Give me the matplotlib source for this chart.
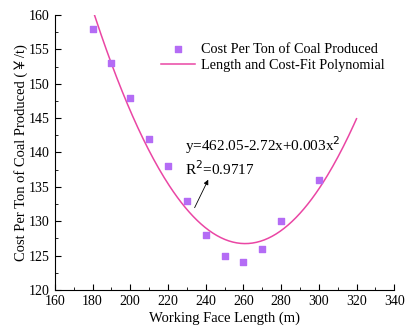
import numpy as np
import matplotlib
matplotlib.use("Agg")
import matplotlib.pyplot as plt
from matplotlib.ticker import MultipleLocator

length = [180, 190, 200, 210, 220, 230, 240, 250, 260, 270, 280, 300]
cost = [158, 153, 148, 142, 138, 133, 128, 125, 124, 126, 130, 136]
x_ticks = [160, 180, 200, 220, 240, 260, 280, 300, 320, 340]
y_ticks = [120, 125, 130, 135, 140, 145, 150, 155, 160]

plt.rcParams['font.family'] = ['Liberation Serif', 'DejaVu Serif']

fig = plt.figure(figsize=(4.06, 3.29), dpi=100)
ax = fig.add_axes([0.135, 0.119, 0.836, 0.835])

coef = np.polyfit(length, cost, 2)
xf = np.linspace(181, 320, 200)
yf = np.polyval(coef, xf)

ax.scatter(length, cost, marker='s', s=24, color='#b46cf5', zorder=3,
           label='Cost Per Ton of Coal Produced')
ax.plot(xf, yf, color='#ea46a4', lw=1.1, label='Length and Cost-Fit Polynomial')

ax.set_xlim(160, 340)
ax.set_ylim(120, 160)
ax.set_xticks(x_ticks)
ax.set_yticks(y_ticks)
ax.xaxis.set_minor_locator(MultipleLocator(10))
ax.yaxis.set_minor_locator(MultipleLocator(2.5))
ax.tick_params(which='both', direction='in', labelsize=10)
ax.tick_params(which='major', length=4)
ax.tick_params(which='minor', length=2)
for s in ['top', 'right']:
    ax.spines[s].set_visible(False)

ax.set_xlabel('Working Face Length (m)', fontsize=10.5, labelpad=3)
ax.set_ylabel('Cost Per Ton of Coal Produced (￥/t)', fontsize=10.5, labelpad=1,
              family=['Liberation Serif', 'Noto Sans CJK SC'])

ax.legend(loc='upper right', bbox_to_anchor=(1.01, 0.945), frameon=False,
          fontsize=10.3, handlelength=2.4, handletextpad=0.4, labelspacing=0.2)

ax.text(229.0, 141.0, 'y=462.05-2.72x+0.003x$^2$', fontsize=11, va='center')
ax.text(229.0, 137.6, 'R$^2$=0.9717', fontsize=11, va='center')
ax.annotate('', xy=(242, 136.4), xytext=(233.5, 131.6),
            arrowprops=dict(arrowstyle='-|>', color='black', lw=0.6,
                            mutation_scale=7))

fig.savefig('out.png', dpi=100)
